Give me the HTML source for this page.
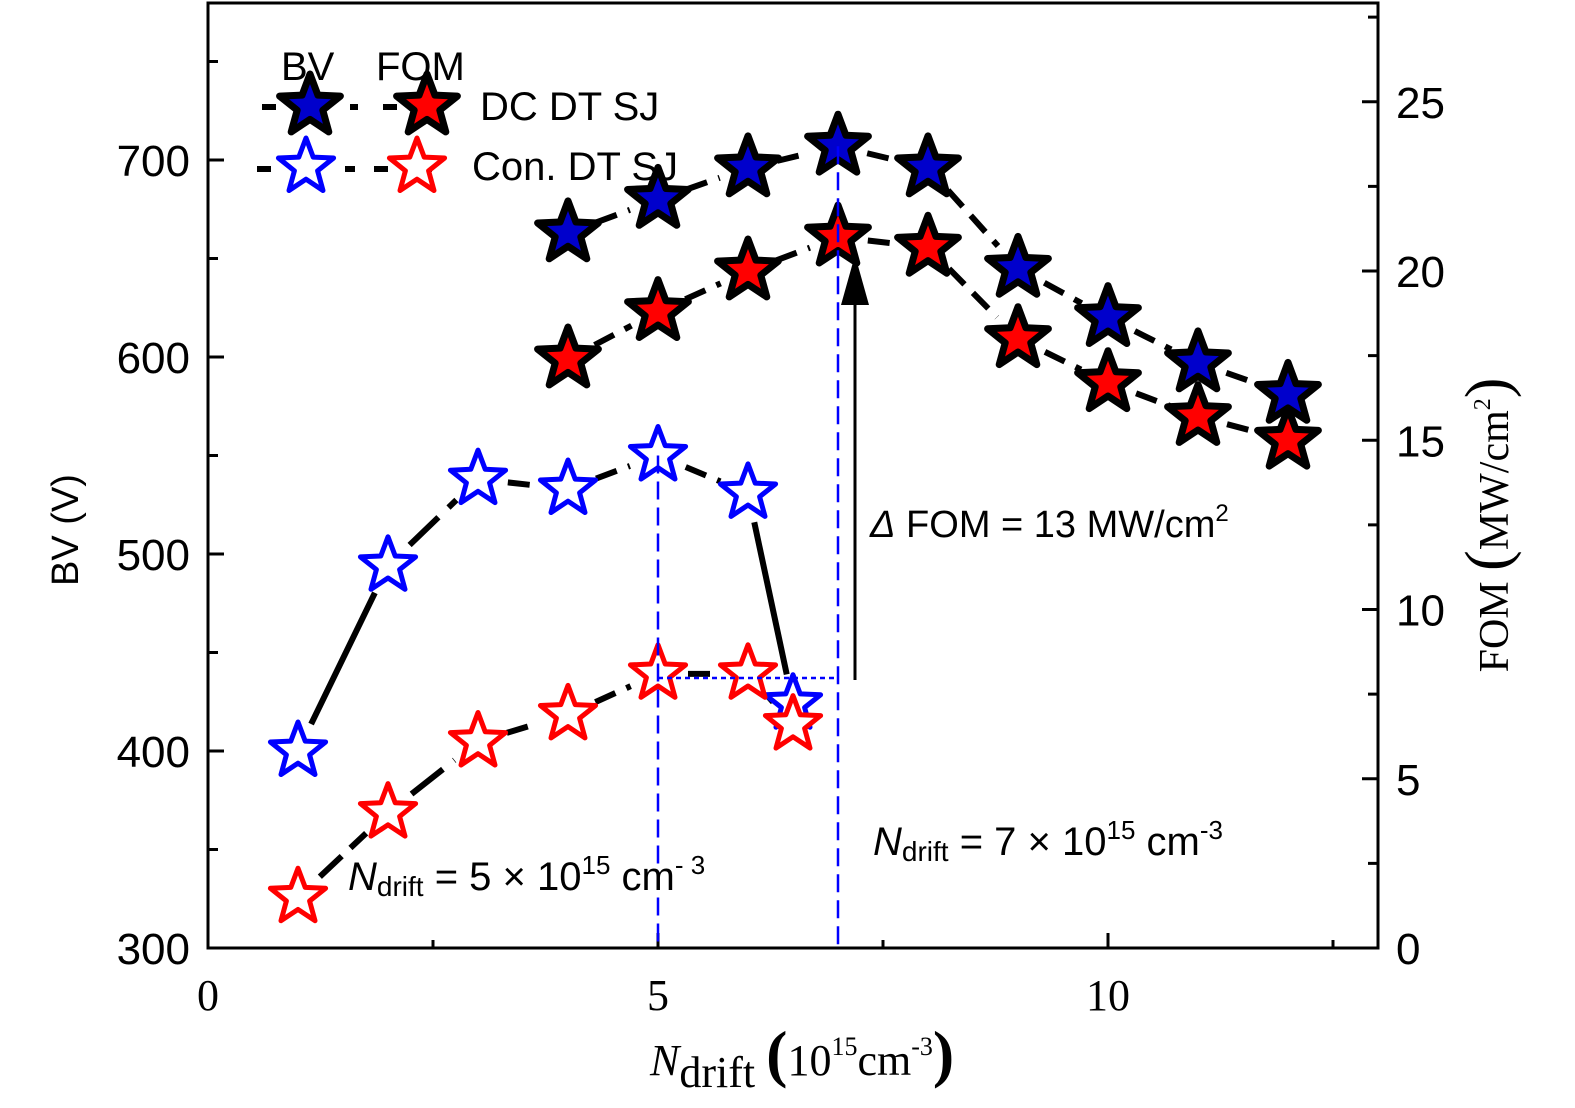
<!DOCTYPE html>
<html><head><meta charset="utf-8"><style>
html,body{margin:0;padding:0;background:#fff;overflow:hidden;width:1575px;height:1108px;}
svg{display:block;font-family:"Liberation Sans",sans-serif;}
</style></head><body>
<svg id="chart" width="1575" height="1108" viewBox="0 0 1575 1108" xmlns="http://www.w3.org/2000/svg">
<g id="grid"></g>
<g id="lines"></g>
<g id="marks"></g>
<g id="ann"></g>
</svg>
<script>
const dcX=[4,5,6,7,8,9,10,11,12];
const dcBV=[663,680,696,707,696,645,620,597,581];
const dcFOM=[17.4,18.8,20.0,21.0,20.7,18.0,16.7,15.7,15.0];
const conX=[1,2,3,4,5,6,6.5];
const conBV=[400,494,538,533,550,531,424];
const conFOM=[1.5,4.0,6.1,6.9,8.1,8.1,6.6];
const xTicks=[0,5,10];
const bvTicks=[300,400,500,600,700];
const fomTicks=[0,5,10,15,20,25];

const NS="http://www.w3.org/2000/svg";
const X=v=>208+v*90;
const YL=v=>948-(v-300)*1.97;
const YR=v=>948-v*33.85;
function mk(tag,attrs,parent,text){const e=document.createElementNS(NS,tag);for(const k in attrs)e.setAttribute(k,attrs[k]);if(text!==undefined)e.textContent=text;document.getElementById(parent).appendChild(e);return e;}
let f=mk('rect',{x:208,y:3,width:1170,height:945,fill:'none',stroke:'#000','stroke-width':3},'grid');

for(let v=0;v<=13;v+=2.5){const t=mk('line',{x1:X(v),x2:X(v),y1:948,y2:(v%5===0)?933:940,stroke:'#000','stroke-width':3},'grid');}
xTicks.forEach(v=>{const t=mk('text',{x:X(v),y:1010,'font-size':44,'text-anchor':'middle','font-family':'Liberation Serif, serif'},'grid',String(v));});
for(let v=300;v<=780;v+=50){const t=mk('line',{x1:208,x2:(v%100===0)?224:218,y1:YL(v),y2:YL(v),stroke:'#000','stroke-width':3},'grid');}
bvTicks.forEach(v=>{const t=mk('text',{x:190,y:YL(v)+16,'font-size':44,'text-anchor':'end'},'grid',String(v));});
for(let v=0;v<=27.5;v+=2.5){const t=mk('line',{x1:1378,x2:(v%5===0)?1362:1368,y1:YR(v),y2:YR(v),stroke:'#000','stroke-width':3},'grid');}
fomTicks.forEach(v=>{const t=mk('text',{x:1396,y:YR(v)+16,'font-size':44},'grid',String(v));});
let t1=mk('text',{x:0,y:0,'font-size':38,'text-anchor':'middle',transform:'translate(78,530) rotate(-90)'},'grid','BV (V)');

let t2=mk('text',{x:0,y:0,'font-size':42,'text-anchor':'middle','font-family':'Liberation Serif, serif',transform:'translate(1508,525) rotate(-90)'},'grid');
t2.innerHTML='FOM <tspan font-size="62">(</tspan>MW/cm<tspan font-size="24" dy="-18">2</tspan><tspan font-size="62" dy="18">)</tspan>';

let t3=mk('text',{x:650,y:1075,'font-size':44,'font-family':'Liberation Serif, serif'},'grid');
t3.innerHTML='<tspan font-style="italic">N</tspan><tspan dy="12">drift</tspan> <tspan dy="-12" font-size="64" font-weight="bold">(</tspan><tspan>10</tspan><tspan font-size="26" dy="-20">15</tspan><tspan dy="20">cm</tspan><tspan font-size="26" dy="-20">-3</tspan><tspan font-size="64" dy="20" font-weight="bold">)</tspan>';


function seg(x1,y1,x2,y2,dash,gap,name){const dx=x2-x1,dy=y2-y1,L=Math.hypot(dx,dy),ux=dx/L,uy=dy/L;
 const l=mk('line',{x1:x1+ux*gap,y1:y1+uy*gap,x2:x2-ux*gap,y2:y2-uy*gap,stroke:'#000','stroke-width':6,'stroke-dasharray':dash},'lines');
 }
function series(xs,ys,Y,name,dashes){for(let i=0;i<xs.length-1;i++)seg(X(xs[i]),Y(ys[i]),X(xs[i+1]),Y(ys[i+1]),dashes?dashes[i]:'22 12',30,name);}
series(dcX,dcBV,YL,'dc-bv-line');
series(dcX,dcFOM,YR,'dc-fom-line');
series(conX,conBV,YL,'con-bv-line',['none','40 14','22 12','22 12','22 12','none']);
series(conX,conFOM,YR,'con-fom-line',['30 12','40 14','22 12','22 12','22 12','22 12']);

function starPts(cx,cy,R){const r=R*0.42;let p=[];for(let i=0;i<10;i++){const a=-Math.PI/2+i*Math.PI/5,rr=i%2?r:R;p.push((cx+rr*Math.cos(a)).toFixed(1)+','+(cy+rr*Math.sin(a)).toFixed(1));}return p.join(' ');}
function star(cx,cy,filled,color,name,par){
 if(filled){const s=mk('polygon',{points:starPts(cx,cy,32),fill:color,stroke:'#000','stroke-width':7,'stroke-linejoin':'round'},par||'marks');}
 else{const s=mk('polygon',{points:starPts(cx,cy,29),fill:'#fff',stroke:color,'stroke-width':5,'stroke-linejoin':'round'},par||'marks');}
}
conX.forEach((x,i)=>star(X(x),YL(conBV[i]),false,'#0000ff','con-bv-point'));
conX.forEach((x,i)=>star(X(x),YR(conFOM[i]),false,'#ff0000','con-fom-point'));
dcX.forEach((x,i)=>star(X(x),YL(dcBV[i]),true,'#0000cc','dc-bv-point'));
dcX.forEach((x,i)=>star(X(x),YR(dcFOM[i]),true,'#ff0000','dc-fom-point'));

function ln(a,name){const l=mk('line',a,'ann');}
ln({x1:X(5),x2:X(5),y1:YL(550),y2:948,stroke:'#0000ff','stroke-width':2.5,'stroke-dasharray':'18 8'},'guide-line-5');
ln({x1:X(7),x2:X(7),y1:YL(707),y2:948,stroke:'#0000ff','stroke-width':2.5,'stroke-dasharray':'18 8'},'guide-line-7');
ln({x1:X(5),x2:X(7),y1:678,y2:678,stroke:'#0000ff','stroke-width':2.5,'stroke-dasharray':'5 4'},'guide-horizontal');
ln({x1:855,x2:855,y1:680,y2:300,stroke:'#000','stroke-width':3},'delta-arrow');
let ah=mk('polygon',{points:'841,305 869,305 855,255',fill:'#000'},'ann');
let a1=mk('text',{x:870,y:537,'font-size':38},'ann');a1.innerHTML='<tspan font-style="italic">Δ</tspan> FOM = 13 MW/cm<tspan font-size="24" dy="-16">2</tspan>';

let a2=mk('text',{x:873,y:855,'font-size':40},'ann');a2.innerHTML='<tspan font-style="italic">N</tspan><tspan font-size="28" dy="6">drift</tspan><tspan dy="-6"> = 7 × 10</tspan><tspan font-size="26" dy="-16">15</tspan><tspan dy="16"> cm</tspan><tspan font-size="26" dy="-16">-3</tspan>';

let a3=mk('text',{x:348,y:890,'font-size':40},'ann');a3.innerHTML='<tspan font-style="italic">N</tspan><tspan font-size="28" dy="6">drift</tspan><tspan dy="-6"> = 5 × 10</tspan><tspan font-size="26" dy="-16">15</tspan><tspan dy="16"> cm</tspan><tspan font-size="26" dy="-16">- 3</tspan>';


function lt(x,y,s,name){const t=mk('text',{x:x,y:y,'font-size':40},'ann',s);}
lt(281,80,'BV','legend-header-bv');lt(376,80,'FOM','legend-header-fom');
ln({x1:262,x2:358,y1:107,y2:107,stroke:'#000','stroke-width':6,'stroke-dasharray':'14 30'},'legend-line-dc-bv');
ln({x1:383,x2:470,y1:107,y2:107,stroke:'#000','stroke-width':6,'stroke-dasharray':'14 30'},'legend-line-dc-fom');
ln({x1:257,x2:355,y1:169,y2:169,stroke:'#000','stroke-width':6,'stroke-dasharray':'14 30'},'legend-line-con-bv');
ln({x1:374,x2:462,y1:169,y2:169,stroke:'#000','stroke-width':6,'stroke-dasharray':'14 30'},'legend-line-con-fom');
star(310,106,true,'#0000cc','legend-marker-dc-bv','ann');
star(427,106,true,'#ff0000','legend-marker-dc-fom','ann');
star(306,167,false,'#0000ff','legend-marker-con-bv','ann');
star(417,167,false,'#ff0000','legend-marker-con-fom','ann');
lt(480,120,'DC DT SJ','legend-label-dc');lt(472,180,'Con. DT SJ','legend-label-con');
</script>
</body></html>
